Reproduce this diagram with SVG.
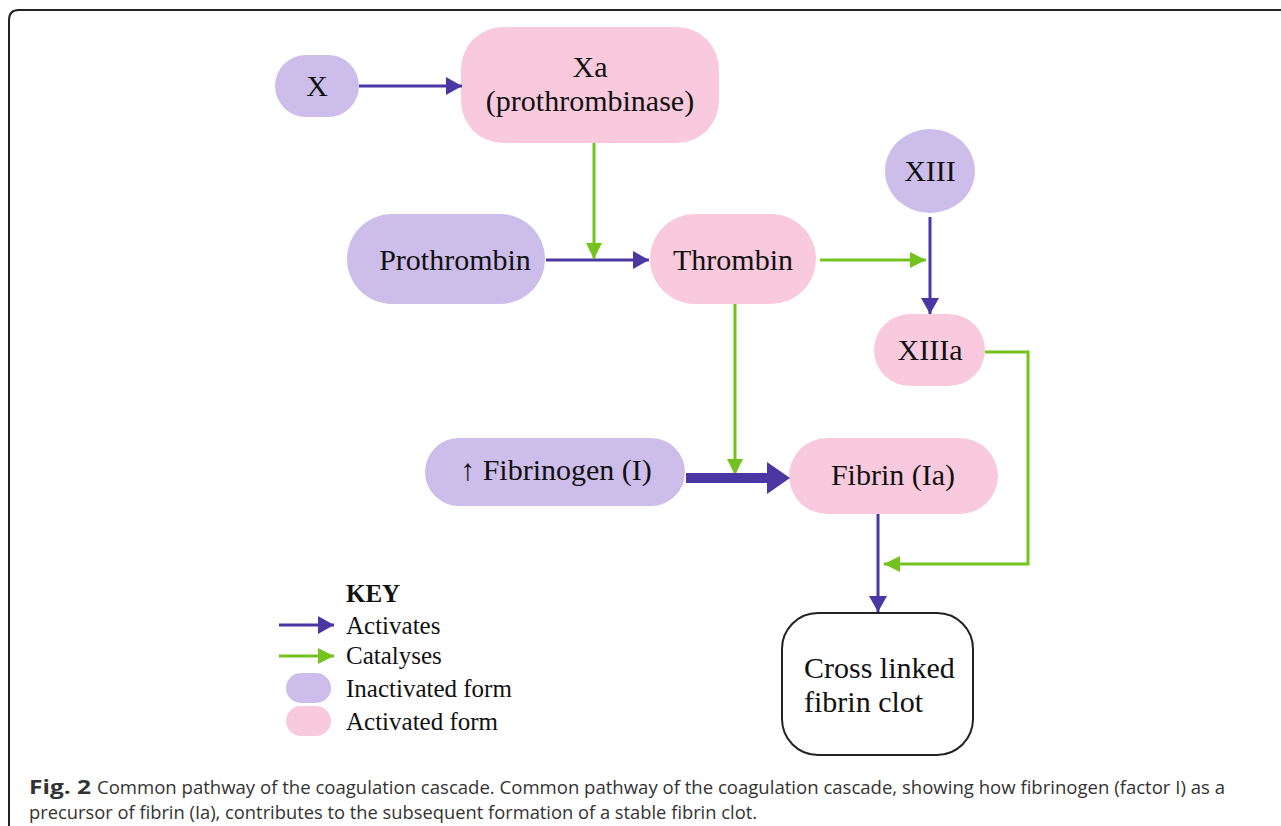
<svg xmlns="http://www.w3.org/2000/svg" width="1281" height="826" viewBox="0 0 1281 826">
<style>
.inact{fill:#cdbdea}
.act{fill:#f9cadd}
.lbl{font-family:"Liberation Serif","Times New Roman",serif;font-size:30px;fill:#111;text-anchor:middle}
.act-line{stroke:#4a37a3;stroke-width:3;fill:none}
.cat-line{stroke:#74c21d;stroke-width:3;fill:none}
.key{font-family:"Liberation Serif","Times New Roman",serif;font-size:25px;fill:#111}
.cap{font-family:"Open Sans","Liberation Sans",sans-serif;font-size:19px;fill:#333}
</style>
<defs>
<marker id="ah" markerUnits="userSpaceOnUse" markerWidth="18" markerHeight="20" refX="16" refY="10" orient="auto">
<path d="M0,1 L16,10 L0,19 Z" fill="#4a37a3"/>
</marker>
<marker id="gh" markerUnits="userSpaceOnUse" markerWidth="18" markerHeight="20" refX="16" refY="10" orient="auto">
<path d="M0,2 L16,10 L0,18 Z" fill="#74c21d"/>
</marker>
</defs>
<rect width="1281" height="826" fill="#fff"/>
<path d="M9,840 V20 Q9,10 19,10 H1295" fill="none" stroke="#222" stroke-width="2"/>

<g id="node-X"><rect class="inact" x="275" y="55" width="84" height="62" rx="31"/><text class="lbl" x="317" y="96">X</text></g>
<g id="node-Xa"><rect class="act" x="461" y="27" width="258" height="116" rx="42"/><text class="lbl" x="590" y="77">Xa</text><text class="lbl" x="590" y="111">(prothrombinase)</text></g>
<g id="node-Prothrombin"><rect class="inact" x="347" y="214" width="198" height="90" rx="45"/><text class="lbl" x="455" y="270">Prothrombin</text></g>
<g id="node-Thrombin"><rect class="act" x="650" y="214" width="166" height="90" rx="45"/><text class="lbl" x="733" y="270">Thrombin</text></g>
<g id="node-XIII"><ellipse class="inact" cx="930" cy="171" rx="45" ry="42"/><text class="lbl" x="930" y="181">XIII</text></g>
<g id="node-XIIIa"><rect class="act" x="874" y="314" width="111" height="72" rx="36"/><text class="lbl" x="930" y="360">XIIIa</text></g>
<g id="node-Fibrinogen"><rect class="inact" x="425" y="438" width="260" height="68" rx="34"/><text class="lbl" x="556" y="480">↑ Fibrinogen (I)</text></g>
<g id="node-Fibrin"><rect class="act" x="789" y="438" width="209" height="76" rx="38"/><text class="lbl" x="893" y="485">Fibrin (Ia)</text></g>
<g id="node-Clot"><rect x="782" y="613" width="191" height="142" rx="36" fill="#fff" stroke="#222" stroke-width="2"/><text class="lbl" x="804" y="678" style="text-anchor:start">Cross linked</text><text class="lbl" x="804" y="712" style="text-anchor:start">fibrin clot</text></g>

<g id="connectors">
<line class="act-line" x1="359" y1="86" x2="462" y2="86" marker-end="url(#ah)"/>
<line class="act-line" x1="546" y1="260" x2="649" y2="260" marker-end="url(#ah)"/>
<line class="cat-line" x1="594" y1="143" x2="594" y2="259" marker-end="url(#gh)"/>
<line class="cat-line" x1="820" y1="260" x2="926" y2="260" marker-end="url(#gh)"/>
<line class="act-line" x1="930" y1="217" x2="930" y2="314" marker-end="url(#ah)"/>
<line class="cat-line" x1="735" y1="304" x2="735" y2="475" marker-end="url(#gh)"/>
<path d="M686,473 H767 V462 L790,478 L767,494 V483 H686 Z" fill="#4a37a3"/>
<line class="act-line" x1="878" y1="514" x2="878" y2="612" marker-end="url(#ah)"/>
<path class="cat-line" d="M985,352 H1028 V564 H884" marker-end="url(#gh)"/>
</g>

<g id="key">
<text class="key" x="346" y="602" font-weight="bold">KEY</text>
<line class="act-line" x1="279" y1="625" x2="334" y2="625" marker-end="url(#ah)"/>
<text class="key" x="346" y="634">Activates</text>
<line class="cat-line" x1="279" y1="656" x2="334" y2="656" marker-end="url(#gh)"/>
<text class="key" x="346" y="664">Catalyses</text>
<rect class="inact" x="286" y="673" width="45" height="30" rx="15"/>
<text class="key" x="346" y="697">Inactivated form</text>
<rect class="act" x="286" y="706" width="45" height="30" rx="15"/>
<text class="key" x="346" y="730">Activated form</text>
</g>

<g id="caption">
<text class="cap" x="29" y="794" font-weight="bold" textLength="62" lengthAdjust="spacingAndGlyphs">Fig. 2</text>
<text class="cap" x="97" y="794" textLength="1128" lengthAdjust="spacingAndGlyphs">Common pathway of the coagulation cascade. Common pathway of the coagulation cascade, showing how fibrinogen (factor I) as a</text>
<text class="cap" x="29" y="819" textLength="728" lengthAdjust="spacingAndGlyphs">precursor of fibrin (Ia), contributes to the subsequent formation of a stable fibrin clot.</text>
</g>
</svg>
